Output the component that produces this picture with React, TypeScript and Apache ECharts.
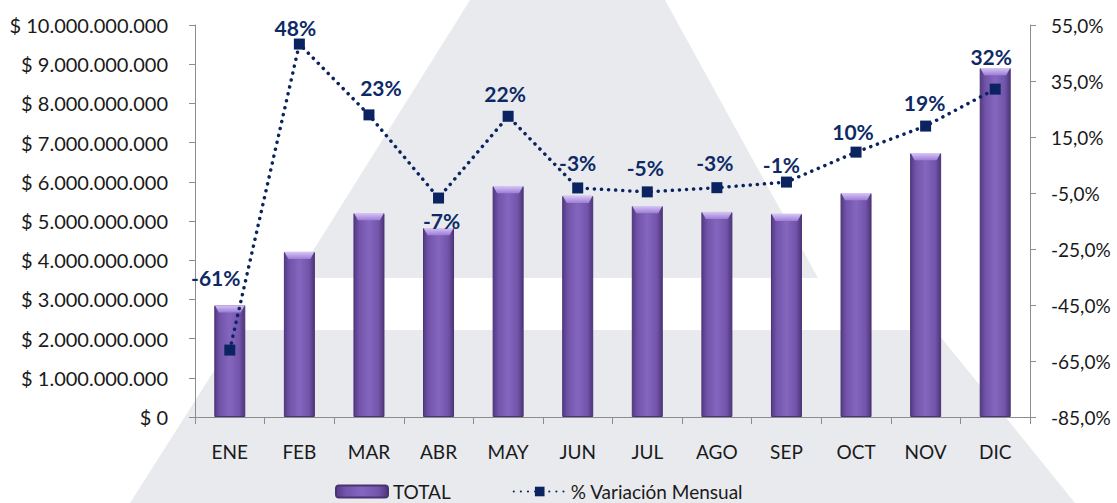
import React, { useEffect, useRef } from 'react';
import * as echarts from 'echarts';

const months = ['ENE', 'FEB', 'MAR', 'ABR', 'MAY', 'JUN', 'JUL', 'AGO', 'SEP', 'OCT', 'NOV', 'DIC'];
const totals = [2.85e9, 4.21e9, 5.2e9, 4.82e9, 5.89e9, 5.64e9, 5.38e9, 5.23e9, 5.18e9, 5.71e9, 6.73e9, 8.9e9];
const variation = [-61.1, 48.2, 22.9, -6.8, 22.4, -3.2, -4.6, -3.1, -1.1, 9.6, 18.9, 32.1];
const leftMin = 0;
const leftMax = 1e10;
const leftInterval = 1e9;
const rightTicks = [-85, -65, -45, -25, -5, 15, 35, 55];
const seriesNames = ['TOTAL', '% Variación Mensual'];

// label offsets (style only)
const labelOffsets: [number, number][] = [
  [-14, -73], [-4, -17], [12, -27], [3, 22], [-3, -23], [0, -25],
  [-2, -24], [-2, -25], [-5, -18], [-3, -21], [-1, -24], [-4, -33],
];

const FONT = 'Lato, "Open Sans", sans-serif';

function fmtMoney(v: number) {
  const s = Math.round(v).toString().replace(/\B(?=(\d{3})+(?!\d))/g, '.');
  return '$ ' + s;
}

export default function App() {
  const ref = useRef<HTMLDivElement>(null);
  useEffect(() => {
    if (!ref.current) return;
    const chart = echarts.init(ref.current, undefined, { renderer: 'svg' });
    const barGrad = new echarts.graphic.LinearGradient(0, 0, 1, 0, [
      { offset: 0, color: '#553B86' },
      { offset: 0.18, color: '#7254AA' },
      { offset: 0.5, color: '#8566BF' },
      { offset: 0.82, color: '#7254AA' },
      { offset: 1, color: '#4E3679' },
    ]);
    const capGrad = new echarts.graphic.LinearGradient(0, 0, 0, 1, [
      { offset: 0, color: '#D8C6F6' },
      { offset: 1, color: '#9C7DD6' },
    ]);
    const wm = '#E8EAEE';
    chart.setOption({
      animation: false,
      backgroundColor: '#ffffff',
      textStyle: { fontFamily: FONT },
      graphic: [
        {
          type: 'polygon', z: -100, silent: true,
          shape: { points: [[470, 0], [665, 0], [818, 278], [296, 278]] },
          style: { fill: wm },
        },
        {
          type: 'polygon', z: -100, silent: true,
          shape: { points: [[240, 330], [935, 330], [1075, 503], [130, 503]] },
          style: { fill: wm },
        },
      ],
      grid: { left: 195, right: 87, top: 25, bottom: 86, containLabel: false },
      legend: {
        data: seriesNames,
        left: 335,
        top: 482,
        padding: 0,
        itemWidth: 52,
        itemHeight: 12,
        itemGap: 62,
        textStyle: { fontSize: 19, lineHeight: 19, color: '#1a1a1a', fontFamily: FONT },
      },
      xAxis: {
        type: 'category',
        data: months,
        axisLine: { lineStyle: { color: '#8C8C8C', width: 1 } },
        axisTick: { show: true, length: 7, lineStyle: { color: '#8C8C8C' } },
        axisLabel: { color: '#1a1a1a', fontSize: 19, margin: 25, fontFamily: FONT },
      },
      yAxis: [
        {
          type: 'value',
          min: leftMin,
          max: leftMax,
          interval: leftInterval,
          splitLine: { show: false },
          axisLine: { show: true, lineStyle: { color: '#8C8C8C' } },
          axisTick: { show: true, length: 6, lineStyle: { color: '#8C8C8C' } },
          axisLabel: { color: '#1a1a1a', fontSize: 20, margin: 27, formatter: fmtMoney, fontFamily: FONT },
        },
        {
          type: 'value',
          min: rightTicks[0],
          max: rightTicks[rightTicks.length - 1],
          position: 'right',
          splitLine: { show: false },
          axisLine: { show: true, lineStyle: { color: '#8C8C8C' } },
          axisTick: { show: true, length: 6, customValues: rightTicks, lineStyle: { color: '#8C8C8C' } },
          axisLabel: {
            color: '#1a1a1a', fontSize: 19, margin: 21, fontFamily: FONT,
            customValues: rightTicks,
            formatter: (v: number) => v.toFixed(1).replace('.', ',') + '%',
          },
        },
      ],
      series: [
        {
          name: seriesNames[0],
          type: 'bar',
          data: totals,
          barWidth: 31,
          itemStyle: { color: barGrad, borderColor: '#4A3373', borderWidth: 1 },
          z: 2,
        },
        {
          name: 'cap',
          type: 'pictorialBar',
          data: totals,
          barWidth: 31,
          symbol: 'path://M0,0 L30,0 L26,6 L4,6 Z',
          symbolSize: [30, 7],
          symbolPosition: 'end',
          symbolOffset: [0, 0],
          itemStyle: { color: capGrad },
          silent: true,
          z: 3,
        },
        {
          name: seriesNames[1],
          type: 'line',
          yAxisIndex: 1,
          data: variation.map((v, i) => ({ value: v, label: { offset: labelOffsets[i] } })),
          symbol: 'rect',
          symbolSize: 11,
          itemStyle: { color: '#0B2361' },
          lineStyle: { color: '#0B2361', width: 3.5, type: [0.1, 7], cap: 'round' },
          z: 5,
          label: {
            show: true,
            position: 'inside',
            color: '#0E2A66',
            fontWeight: 'bold',
            fontSize: 21,
            fontFamily: FONT,
            formatter: (p: any) => Math.round(p.value) + '%',
          },
        },
      ],
    });
    return () => chart.dispose();
  }, []);
  return <div ref={ref} style={{ width: 1117, height: 503, position: 'absolute', left: 0, top: 0 }} />;
}
